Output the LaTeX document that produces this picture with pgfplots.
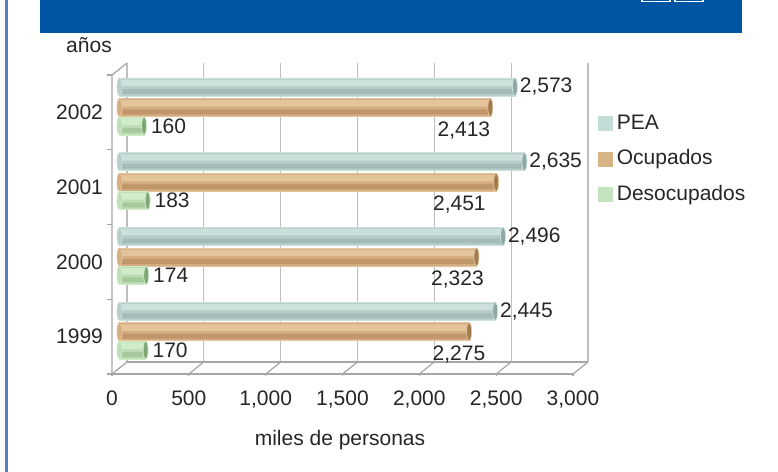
\documentclass[border=0pt]{standalone}
\usepackage{fontspec}
\setmainfont{Liberation Sans}
\usepackage{pgfplots}
\usepackage{pgfplotstable}
\pgfplotsset{compat=1.18}

\definecolor{band}{HTML}{0055A5}
\definecolor{frame}{HTML}{4F81BD}
\definecolor{txt}{HTML}{262626}
\definecolor{grid}{HTML}{BFBFBF}
\definecolor{floor}{HTML}{A6A6A6}
% bar colours: base, light stripe, dark stripe, cap
\definecolor{peaM}{HTML}{B6CDCA}
\definecolor{peaT}{HTML}{CCE0DC}
\definecolor{peaB}{HTML}{A4BBB8}
\definecolor{peaC}{HTML}{8EA8A5}
\definecolor{ocuM}{HTML}{D3AD7F}
\definecolor{ocuT}{HTML}{E4C49B}
\definecolor{ocuB}{HTML}{BF9569}
\definecolor{ocuC}{HTML}{A27A50}
\definecolor{desM}{HTML}{BDDDB4}
\definecolor{desT}{HTML}{D2ECCB}
\definecolor{desB}{HTML}{A6C89D}
\definecolor{desC}{HTML}{7DA673}
\definecolor{peaL}{HTML}{C4DCD7}
\definecolor{ocuL}{HTML}{D7B486}
\definecolor{desL}{HTML}{C6E3BF}

% lx: where the Ocupados label sits (x position only)
\pgfplotstableread{
yr   pea   ypea  ocu   yocu   des  ydes   lx
1999 2445  0.34  2275  0.065  170  -0.18  2209
2000 2496  1.34  2323  1.065  174  0.82   2199
2001 2635  2.34  2451  2.065  183  1.82   2212
2002 2573  3.34  2413  3.065  160  2.82   2241
}\datos

\begin{document}
\begin{tikzpicture}[font=\fontsize{10.5}{12.6}\selectfont, text=txt]
\path[use as bounding box] (0pt,0pt) rectangle (389pt,236pt);
% header band and frame
\fill[band] (20pt,219.5pt) rectangle (371pt,236pt);
\draw[white, line width=0.6pt] (321pt,236.5pt) rectangle (335pt,235.3pt);
\draw[white, line width=0.6pt] (337.5pt,236.5pt) rectangle (351.5pt,235.3pt);
\draw[frame, line width=1.2pt] (3.2pt,0pt) -- (3.2pt,236pt);

\begin{axis}[
  at={(56pt,49pt)}, anchor=south west,
  scale only axis, width=230.5pt, height=149.5pt,
  xmin=0, xmax=3000, ymin=-0.5, ymax=3.5,
  clip=false,
  axis line style={draw=none},
  major tick length=0pt,
  xtick={0,500,1000,1500,2000,2500,3000},
  ytick={0,1,2,3}, yticklabels={1999,2000,2001,2002},
  scaled x ticks=false,
  /pgf/number format/.cd, 1000 sep={,}, assume math mode=true,
  /pgfplots/.cd,
  xticklabel style={yshift=-5pt},
  yticklabel style={xshift=-1pt},
  tick label style={text=txt},
  xbar, bar width=9pt, bar shift=0pt,
  legend style={at={(1.054,0.882)}, anchor=north west, draw=none, fill=none,
    row sep=4.8pt, inner sep=0pt},
  legend cell align=left,
]
% back wall grid and floor
\foreach \v in {0,500,1000,1500,2000,2500,3000} {
  \edef\tmp{\noexpand\draw[grid, line width=0.6pt]
    ([shift={(7.5pt,6pt)}]axis cs:\v,-0.5) -- ([shift={(7.5pt,6pt)}]axis cs:\v,3.5);}
  \tmp
  \edef\tmp{\noexpand\draw[floor, line width=0.6pt]
    (axis cs:\v,-0.5) -- ([shift={(7.5pt,6pt)}]axis cs:\v,-0.5);}
  \tmp
  \edef\tmp{\noexpand\draw[floor, line width=0.6pt]
    (axis cs:\v,-0.5) -- ([shift={(0pt,-1.2pt)}]axis cs:\v,-0.5);}
  \tmp
}
\foreach \c in {-0.5,0.5,1.5,2.5,3.5} {
  \edef\tmp{\noexpand\draw[floor, line width=0.6pt]
    (axis cs:0,\c) -- ([shift={(-2.5pt,0pt)}]axis cs:0,\c);}
  \tmp
}
\draw[floor, line width=0.6pt] (axis cs:0,-0.5) -- (axis cs:3000,-0.5);
\draw[floor, line width=0.6pt] ([shift={(7.5pt,6pt)}]axis cs:0,-0.5) -- ([shift={(7.5pt,6pt)}]axis cs:3000,-0.5);
\draw[floor, line width=0.6pt] (axis cs:0,-0.5) -- (axis cs:0,3.5) -- ([shift={(7.5pt,6pt)}]axis cs:0,3.5);

% rounded left ends of the cylinders
\addplot[forget plot, xbar=0pt, xshift=3.75pt, only marks, mark=*, mark size=4.5pt,
  mark options={xscale=0.28, fill=peaM, draw=peaT}]
  table[x expr=0, y=ypea] {\datos};
\addplot[forget plot, xshift=3.75pt, only marks, mark=*, mark size=4.5pt,
  mark options={xscale=0.28, fill=ocuM, draw=ocuT}]
  table[x expr=0, y=yocu] {\datos};
\addplot[forget plot, xshift=3.75pt, only marks, mark=*, mark size=4.5pt,
  mark options={xscale=0.28, fill=desM, draw=desT}]
  table[x expr=0, y=ydes] {\datos};

% PEA
\addplot[xshift=3.75pt, fill=peaM, draw=peaT, line width=0.3pt,
  nodes near coords, nodes near coords style={anchor=west, xshift=-1pt, text=txt},
  legend image code/.code={\fill[peaL] (0pt,-3.5pt) rectangle (7pt,3.5pt);}]
  table[x=pea, y=ypea] {\datos};
\addlegendentry{PEA}
% Ocupados
\addplot[xshift=3.75pt, fill=ocuM, draw=ocuT, line width=0.3pt,
  legend image code/.code={\fill[ocuL] (0pt,-3.5pt) rectangle (7pt,3.5pt);}]
  table[x=ocu, y=yocu] {\datos};
\addlegendentry{Ocupados}
% Desocupados
\addplot[xshift=3.75pt, fill=desM, draw=desT, line width=0.3pt,
  nodes near coords, nodes near coords style={anchor=west, xshift=0pt, text=txt},
  legend image code/.code={\fill[desL] (0pt,-3.5pt) rectangle (7pt,3.5pt);}]
  table[x=des, y=ydes] {\datos};
\addlegendentry{Desocupados}

% cylinder shading stripes
\addplot[forget plot, xshift=3.75pt, bar width=3.2pt, fill=peaT, draw=none]
  table[x=pea, y expr=\thisrow{ypea}+0.056] {\datos};
\addplot[forget plot, xshift=3.75pt, bar width=2.4pt, fill=peaB, draw=none]
  table[x=pea, y expr=\thisrow{ypea}-0.06] {\datos};
\addplot[forget plot, xshift=3.75pt, bar width=3.2pt, fill=ocuT, draw=none]
  table[x=ocu, y expr=\thisrow{yocu}+0.056] {\datos};
\addplot[forget plot, xshift=3.75pt, bar width=2.4pt, fill=ocuB, draw=none]
  table[x=ocu, y expr=\thisrow{yocu}-0.06] {\datos};
\addplot[forget plot, xshift=3.75pt, bar width=3.2pt, fill=desT, draw=none]
  table[x=des, y expr=\thisrow{ydes}+0.056] {\datos};
\addplot[forget plot, xshift=3.75pt, bar width=2.4pt, fill=desB, draw=none]
  table[x=des, y expr=\thisrow{ydes}-0.06] {\datos};

% cylinder caps
\addplot[forget plot, xshift=3.75pt, only marks, mark=*, mark size=4.5pt,
  mark options={xscale=0.28, fill=peaC, draw=peaT}]
  table[x=pea, y=ypea] {\datos};
\addplot[forget plot, xshift=3.75pt, only marks, mark=*, mark size=4.5pt,
  mark options={xscale=0.28, fill=ocuC, draw=ocuT}]
  table[x=ocu, y=yocu] {\datos};
\addplot[forget plot, xshift=3.75pt, only marks, mark=*, mark size=4.5pt,
  mark options={xscale=0.28, fill=desC, draw=desT}]
  table[x=des, y=ydes] {\datos};

% Ocupados value labels, set below the bars as in the original
\addplot[forget plot, xshift=3.75pt, only marks, mark=none,
  point meta=explicit,
  nodes near coords, nodes near coords style={anchor=north, yshift=-3.5pt, text=txt}]
  table[x=lx, y=yocu, meta=ocu] {\datos};
\end{axis}

\node at (44.5pt,213.5pt) {años};
\node at (170pt,16pt) {miles de personas};
\end{tikzpicture}
\end{document}
